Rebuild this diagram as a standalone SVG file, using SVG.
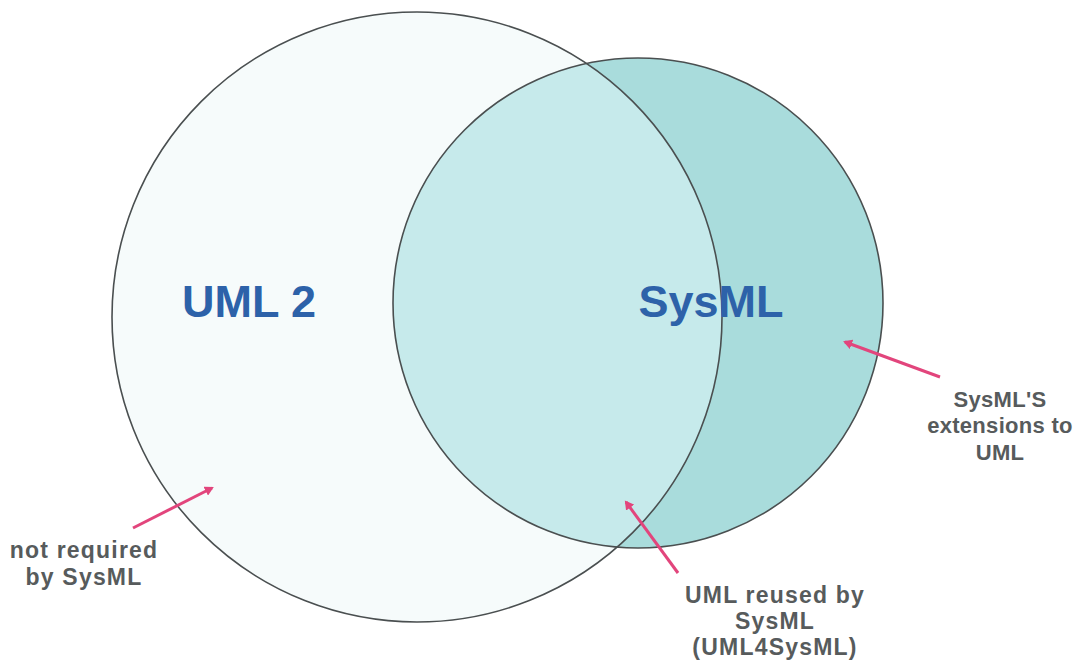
<svg xmlns="http://www.w3.org/2000/svg" width="1074" height="663" viewBox="0 0 1074 663">
<style>
.circ{stroke:#4a4f50;stroke-width:1.6}
.big{font-family:"Liberation Sans",Arial,sans-serif;font-weight:bold;font-size:45px;fill:#2d62a9;text-anchor:middle}
.lbl{font-family:"Liberation Sans",Arial,sans-serif;font-weight:bold;font-size:23px;letter-spacing:1.2px;fill:#575b5c;text-anchor:middle}
.lbl2{font-family:"Liberation Sans",Arial,sans-serif;font-weight:bold;font-size:22px;letter-spacing:0.3px;fill:#575b5c;text-anchor:middle}
.arr{stroke:#e2457c;stroke-width:3;fill:none;marker-end:url(#ah)}
</style>
<defs>
<marker id="ah" markerWidth="10" markerHeight="10" refX="7" refY="5" orient="auto" markerUnits="userSpaceOnUse"><path d="M0,0 L9,5 L0,10 z" fill="#e2457c"/></marker>
<clipPath id="umlclip"><circle cx="417" cy="317" r="305"/></clipPath>
</defs>
<rect width="1074" height="663" fill="#ffffff"/>
<g id="uml2">
<circle cx="417" cy="317" r="305" fill="#f6fbfb"/>
<text class="big" x="249" y="317">UML 2</text>
</g>
<g id="sysml">
<circle cx="638" cy="303" r="245" fill="#a9dcdc"/>
<circle cx="638" cy="303" r="245" fill="#c6eaeb" clip-path="url(#umlclip)"/>
<circle cx="417" cy="317" r="305" fill="none" class="circ"/>
<circle cx="638" cy="303" r="245" fill="none" class="circ"/>
<text class="big" x="711" y="317">SysML</text>
</g>
<g id="label-not-required">
<text class="lbl" x="84" y="558">not required</text>
<text class="lbl" x="84" y="585">by SysML</text>
</g>
<g id="label-reused">
<text class="lbl" x="775" y="603">UML reused by</text>
<text class="lbl" x="775" y="629">SysML</text>
<text class="lbl" x="775" y="655">(UML4SysML)</text>
</g>
<g id="label-extensions">
<text class="lbl2" x="1000" y="407">SysML'S</text>
<text class="lbl2" x="1000" y="433">extensions to</text>
<text class="lbl2" x="1000" y="460">UML</text>
</g>
<g id="connectors">
<line class="arr" x1="133" y1="528" x2="212" y2="488"/>
<line class="arr" x1="678" y1="573" x2="626" y2="502"/>
<line class="arr" x1="940" y1="377" x2="845" y2="342"/>
</g>
</svg>
